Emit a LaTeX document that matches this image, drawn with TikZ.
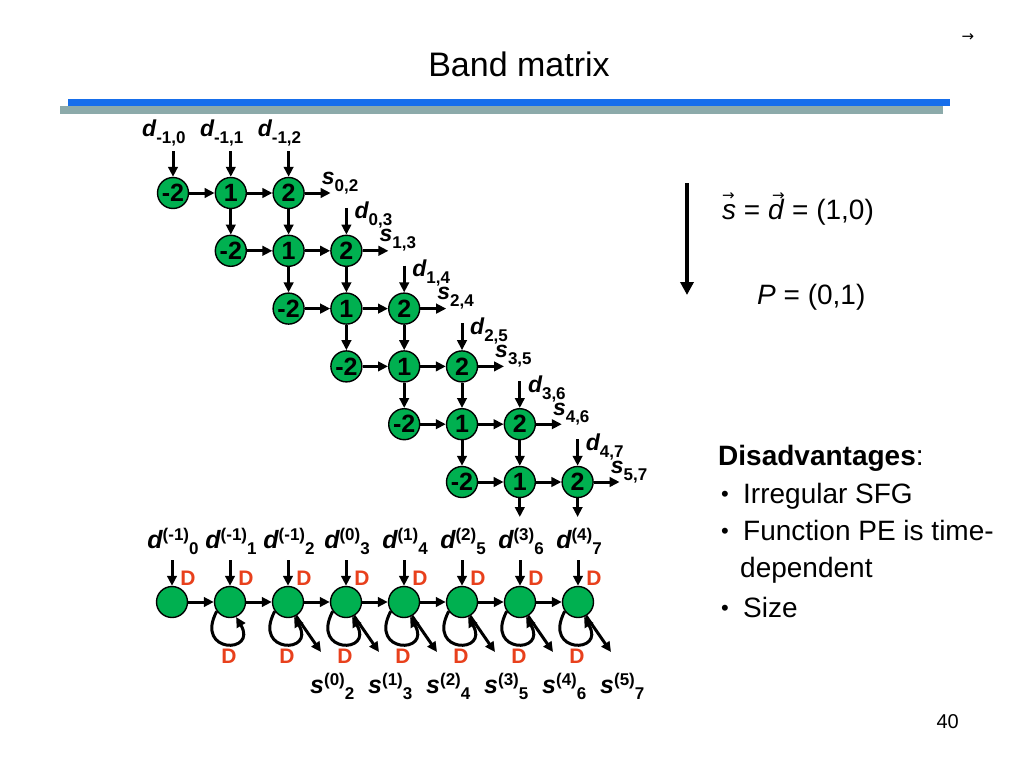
\documentclass[tikz,border=0pt]{standalone}
\usepackage{fontspec}
\setmainfont{Liberation Sans}
\newfontfamily\symfont{DejaVu Sans}
\usetikzlibrary{arrows.meta,calc}
\definecolor{pegreen}{RGB}{0,176,80}
\definecolor{dred}{RGB}{232,64,28}
\definecolor{barblue}{RGB}{22,110,235}
\definecolor{bargrey}{RGB}{140,170,170}
\newcommand{\fs}[1]{\fontsize{#1}{#1}\selectfont}
\newcommand{\dlab}[2]{{\fs{23}\bfseries\itshape #1}\raisebox{-7pt}{\fs{17}\bfseries #2}}
\newcommand{\dsup}[3]{{\fs{25}\bfseries\itshape #1}\raisebox{8pt}{\fs{17}\bfseries #2}\raisebox{-6pt}{\fs{17}\bfseries #3}}
\newcommand{\vecit}[2]{\makebox[0pt][l]{\hspace{#2}\raisebox{19pt}{\symfont\fs{15}→}}\textit{#1}}
\begin{document}
\begin{tikzpicture}[x=1pt,y=-1pt,
  pe/.style={circle,draw=black,line width=1.4pt,fill=pegreen,minimum size=31pt,inner sep=0pt,font=\fs{25}\bfseries},
  arr/.style={-{Triangle[length=10pt,width=9.5pt]},line width=3pt},
  lab/.style={anchor=base west,inner sep=0pt},
  redd/.style={inner sep=0pt,font=\fs{21}\bfseries,text=dred},
  txt/.style={anchor=base west,inner sep=0pt,font=\fs{28}}]
\useasboundingbox (0,0) rectangle (1024,768);
% header
\node[anchor=base,inner sep=0pt] (title) at (519,77) {\fs{34}Band matrix};
\node[inner sep=0pt] (corner) at (968,38) {\symfont\fs{15}→};
\fill[barblue] (68,99) rectangle (950,106);
\fill[bargrey] (60,106) rectangle (943,113.5);
% grid
\foreach \r in {0,...,5}{
  \foreach \c/\t in {0/-2,1/1,2/2}{
    \node[pe] (n-\r-\c) at ({173+57.8*(\r+\c)},{193+57.8*\r}) {\t};
  }
  \draw[arr] (n-\r-0) -- (n-\r-1);
  \draw[arr] (n-\r-1) -- (n-\r-2);
}
\foreach \r [evaluate=\r as \nx using int(\r+1)] in {0,...,4}{
  \draw[arr] (n-\r-1) -- (n-\nx-0);
  \draw[arr] (n-\r-2) -- (n-\nx-1);
}
\coordinate (o51) at ($(n-5-1.center)+(0,35)$);
\coordinate (o52) at ($(n-5-2.center)+(0,35)$);
\draw[arr] (n-5-1) -- (o51);
\draw[arr] (n-5-2) -- (o52);
% outputs
\foreach \r [evaluate=\r as \rc using int(\r+2)] in {0,...,5}{
  \coordinate (so-\r) at ($(n-\r-2.center)+(42,0)$);
  \draw[arr] (n-\r-2) -- (so-\r);
  \node[lab] (sl-\r) at ($(n-\r-2.center)+(33,-9)$) {\dlab{s}{\r,\rc}};
}
% inputs row 0
\foreach \c in {0,1,2}{
  \coordinate (i-0-\c) at ($(n-0-\c.center)+(0,-42)$);
  \draw[arr] (i-0-\c) -- (n-0-\c);
  \node[lab] (dl-0-\c) at ($(n-0-\c.center)+(-31,-57)$) {\dlab{d}{-1,\c}};
}
% inputs rows 1..5
\foreach \r [evaluate=\r as \ra using int(\r-1), evaluate=\r as \rc using int(\r+2)] in {1,...,5}{
  \coordinate (i-\r) at ($(n-\r-2.center)+(0,-43)$);
  \draw[arr] (i-\r) -- (n-\r-2);
  \node[lab] (dl-\r) at ($(n-\r-2.center)+(8,-32)$) {\dlab{d}{\ra,\rc}};
}
% bottom row
\foreach \k/\sp/\sb in {0/(-1)/0,1/(-1)/1,2/(-1)/2,3/(0)/3,4/(1)/4,5/(2)/5,6/(3)/6,7/(4)/7}{
  \node[pe] (b\k) at ({172+58*\k},602) {};
  \coordinate (bi\k) at ({172+58*\k},560);
  \draw[arr] (bi\k) -- (b\k);
  \node[anchor=base,inner sep=0pt] (bl\k) at ({173+58*\k},548) {\dsup{d}{\sp}{\sb}};
  \node[redd] (bd\k) at ({188+58*\k},578) {D};
}
\foreach \k [evaluate=\k as \nx using int(\k+1)] in {0,...,6}{
  \draw[arr] (b\k) -- (b\nx);
}
\foreach \k in {1,...,7}{
  \draw[arr] (b\k.215) .. controls ($(b\k.center)+(-36,52)$) and ($(b\k.center)+(28,52)$) .. (b\k.292);
  \node[redd] (ld\k) at ({171+58*\k},656) {D};
}
\foreach \k [evaluate=\k as \sk using int(\k-2)] in {2,...,7}{
  \coordinate (bo\k) at ({205+58*\k},652);
  \draw[arr] (b\k.-60) -- (bo\k);
  \node[anchor=base west,inner sep=0pt] (bs\k) at ({194+58*\k},693) {\dsup{s}{(\sk)}{\k}};
}
% right side
\coordinate (va) at (687,183);
\coordinate (vb) at (687,295);
\draw[line width=4.5pt,-{Triangle[length=13pt,width=13pt]}] (va) -- (vb);
\node[anchor=base west,inner sep=0pt] (sd) at (722,219) {\fs{28}\vecit{s}{0pt} = \vecit{d}{4pt} = (1,0)};
\node[anchor=base west,inner sep=0pt] (pp) at (757,304) {\fs{28}\textit{P} = (0,1)};
\node[txt] (dis) at (718,465) {\textbf{Disadvantages}:};
\node[anchor=base west,inner sep=0pt,font=\fs{22}] (b1) at (721,501) {•};
\node[txt] (t1) at (743,503) {Irregular SFG};
\node[anchor=base west,inner sep=0pt,font=\fs{22}] (b2) at (721,538) {•};
\node[txt] (t2) at (743,540) {Function PE is time-};
\node[txt] (t3) at (740,577) {dependent};
\node[anchor=base west,inner sep=0pt,font=\fs{22}] (b3) at (721,615) {•};
\node[txt] (t4) at (743,617) {Size};
\node[anchor=base east,inner sep=0pt] (pg) at (959,728) {\fs{20}40};
\end{tikzpicture}
\end{document}
